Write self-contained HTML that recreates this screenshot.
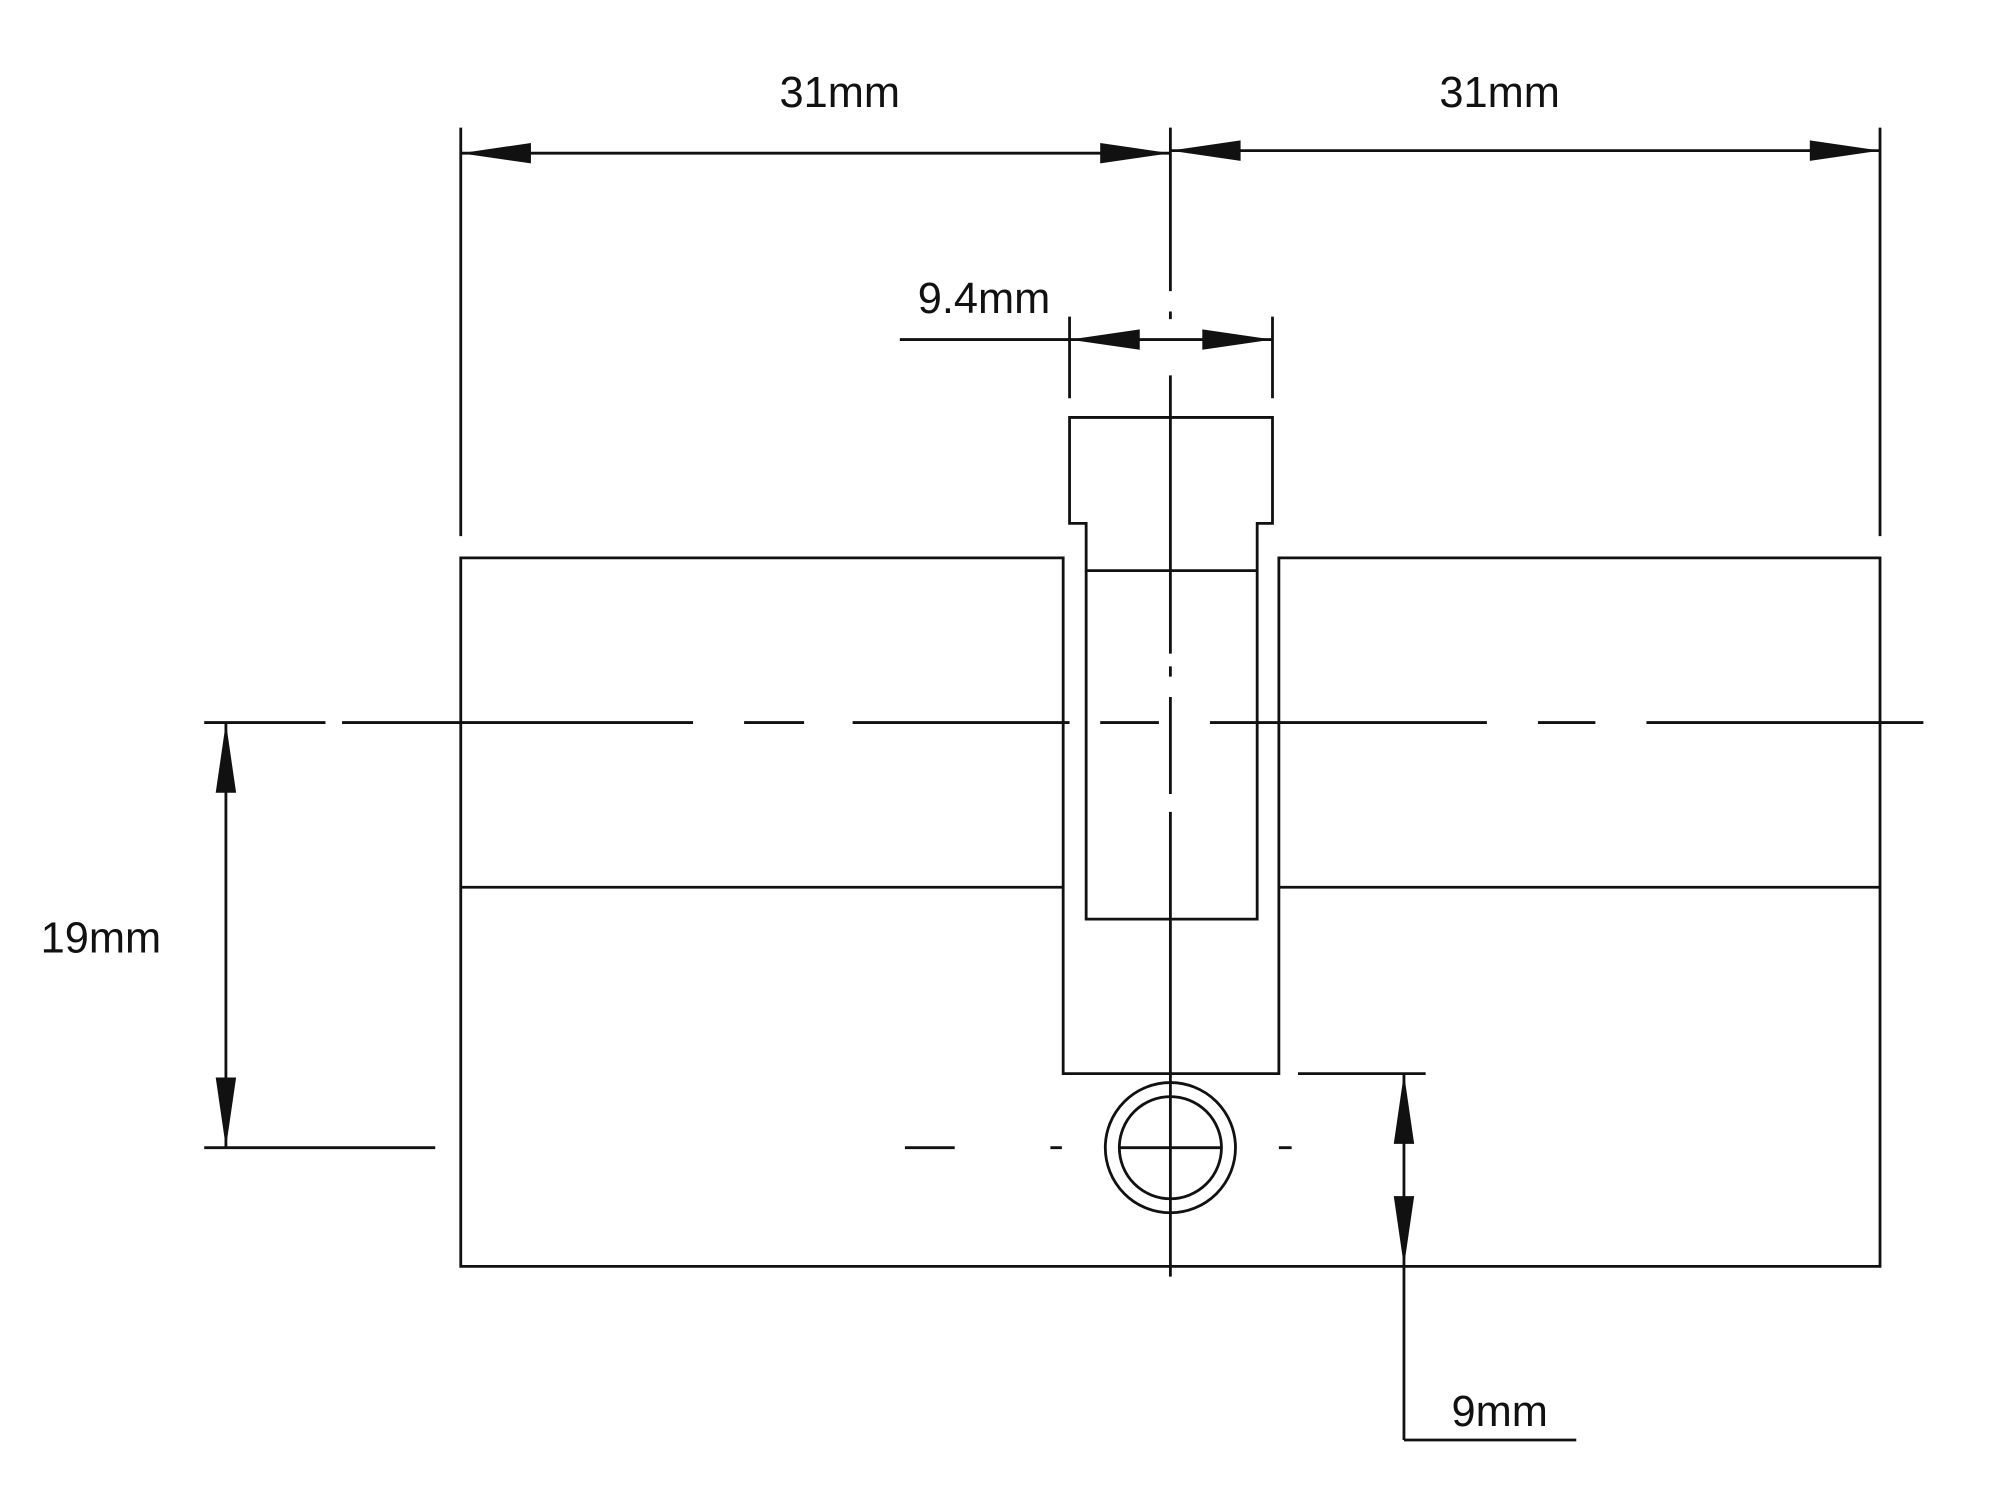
<!DOCTYPE html>
<html><head><meta charset="utf-8"><style>html,body{margin:0;padding:0;background:#fff}svg{display:block}</style></head>
<body>
<svg width="2000" height="1500" viewBox="0 0 1567 1175" preserveAspectRatio="none" xmlns="http://www.w3.org/2000/svg">
<g stroke="#111" stroke-width="2.2" fill="none">
<line x1="361" y1="100" x2="361" y2="420"/>
<line x1="1473" y1="100" x2="1473" y2="420"/>
<line x1="361" y1="120" x2="917" y2="120"/>
<line x1="917" y1="118" x2="1473" y2="118"/>
<path d="M917 100V228M917 244V250M917 294V512M917 522V530M917 546V622M917 636V1000"/>
<line x1="705" y1="266" x2="997" y2="266"/>
<line x1="838" y1="248" x2="838" y2="312"/>
<line x1="997" y1="248" x2="997" y2="312"/>
<path d="M838 410V327H997V410H985V720H851V410Z"/>
<line x1="851" y1="447" x2="985" y2="447"/>
<path d="M361 437H833V841H1002V437H1473V992H361Z"/>
<line x1="361" y1="695" x2="833" y2="695"/>
<line x1="1002" y1="695" x2="1473" y2="695"/>
<path d="M160 566H255M268 566H543M583 566H630M668 566H838M862 566H908M948 566H1165M1205 566H1250M1290 566H1507"/>
<line x1="177" y1="566" x2="177" y2="899"/>
<line x1="160" y1="899" x2="341" y2="899"/>
<circle cx="917" cy="899" r="51"/>
<circle cx="917" cy="899" r="40"/>
<line x1="877" y1="899" x2="957" y2="899"/>
<path d="M709 899H748M823 899H832M1002 899H1012"/>
<line x1="1017" y1="841" x2="1117" y2="841"/>
<line x1="1100" y1="841" x2="1100" y2="1128"/>
<line x1="1100" y1="1128" x2="1235" y2="1128"/>
</g>
<g fill="#111">
<polygon points="361,120 416,112 416,128"/>
<polygon points="917,120 862,112 862,128"/>
<polygon points="917,118 972,110 972,126"/>
<polygon points="1473,118 1418,110 1418,126"/>
<polygon points="838,266 893,258 893,274"/>
<polygon points="997,266 942,258 942,274"/>
<polygon points="177,566 169,621 185,621"/>
<polygon points="177,899 169,844 185,844"/>
<polygon points="1100,841 1092,896 1108,896"/>
<polygon points="1100,992 1092,937 1108,937"/>
</g>
<g font-family="Liberation Sans, sans-serif" font-size="34" fill="#111" text-anchor="middle">
<text x="658" y="84">31mm</text>
<text x="1175" y="84">31mm</text>
<text x="771" y="245">9.4mm</text>
<text x="79" y="746">19mm</text>
<text x="1175" y="1117">9mm</text>
</g>
</svg>
</body></html>
